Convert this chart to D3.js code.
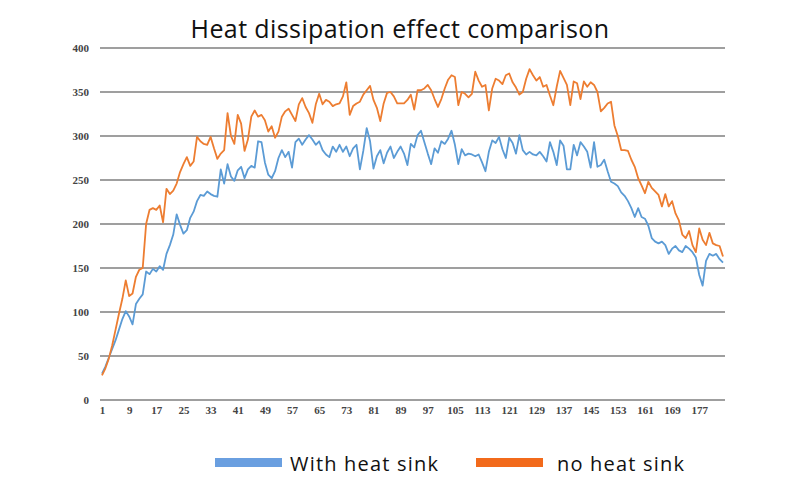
<!DOCTYPE html>
<html>
<head>
<meta charset="utf-8">
<script src="https://cdn.jsdelivr.net/npm/d3@7"></script>
<style>
  body { margin: 0; background: #fff; }
  svg { display: block; }
</style>
</head>
<body>
<div id="chart"></div>
<script>
// values, one per sample (1..184)
var withSink = [30, 38, 48, 58, 68, 80, 92, 101, 95, 86, 109, 115, 120, 146, 143, 149, 146, 152, 148, 166,
  176, 188, 211, 199, 189, 193, 207, 214, 226, 233, 232, 237, 234, 232, 231, 262, 246, 268, 254, 249,
  261, 265, 252, 262, 266, 264, 294, 293, 270, 256, 252, 260, 275, 284, 276, 282, 264, 293, 297, 290,
  296, 301, 296, 290, 294, 284, 279, 276, 288, 282, 290, 282, 288, 277, 286, 290, 262, 283, 309, 294,
  263, 277, 284, 269, 281, 288, 275, 282, 288, 280, 267, 291, 287, 301, 306, 293, 280, 268, 286, 281,
  294, 291, 297, 306, 290, 268, 285, 278, 280, 279, 277, 279, 270, 260, 282, 295, 292, 299, 285, 275,
  298, 292, 280, 301, 284, 279, 282, 279, 278, 282, 277, 271, 293, 282, 267, 295, 289, 262, 262, 290,
  278, 293, 288, 282, 264, 293, 265, 267, 273, 260, 248, 246, 243, 236, 232, 226, 218, 208, 218, 208,
  206, 198, 184, 180, 178, 180, 176, 166, 172, 175, 170, 168, 175, 172, 168, 162, 142, 130, 158, 166,
  164, 166, 160, 156];

var noSink = [28, 36, 47, 62, 80, 98, 115, 136, 118, 121, 140, 148, 150, 200, 216, 218, 216, 221, 202, 240,
  234, 238, 246, 259, 268, 276, 266, 271, 299, 294, 291, 290, 299, 286, 274, 280, 284, 326, 300, 291,
  324, 314, 283, 296, 322, 329, 322, 324, 318, 305, 311, 298, 305, 322, 328, 331, 324, 317, 336, 343,
  333, 326, 315, 336, 348, 336, 341, 339, 334, 336, 337, 345, 361, 324, 334, 337, 339, 347, 352, 357,
  341, 332, 317, 337, 349, 350, 345, 337, 337, 337, 341, 347, 330, 352, 352, 354, 358, 352, 342, 333,
  342, 354, 364, 369, 367, 335, 350, 348, 344, 348, 373, 363, 356, 358, 329, 354, 365, 363, 359, 369,
  371, 361, 355, 347, 350, 365, 376, 369, 363, 367, 356, 358, 346, 335, 356, 374, 366, 358, 335, 362,
  360, 342, 362, 356, 361, 358, 350, 328, 332, 337, 339, 312, 300, 284, 284, 283, 273, 265, 252, 244,
  235, 248, 241, 237, 233, 220, 234, 220, 226, 212, 204, 188, 184, 192, 176, 168, 195, 182, 176, 190,
  178, 176, 175, 163];

var yTicks = [0, 50, 100, 150, 200, 250, 300, 350, 400];
var seriesNames = ["With heat sink", "no heat sink"];
var colors = ["#5b9bd5", "#ed7d31"];

var width = 800, height = 492;
var margin = { top: 48, right: 75, bottom: 92, left: 100 };

var svg = d3.select("#chart").append("svg")
    .attr("width", width)
    .attr("height", height);

var n = noSink.length;
var idx = d3.range(1, n + 1);
var xLabels = idx.filter(function (d) { return (d - 1) % 8 === 0; });

var x = d3.scaleLinear()
    .domain([1, n])
    .range([margin.left + 2, width - margin.right - 2]);

var y = d3.scaleLinear()
    .domain([0, 400])
    .range([height - margin.bottom, margin.top]);

// gridlines
svg.append("g")
    .selectAll("line")
    .data(yTicks)
    .enter().append("line")
    .attr("x1", margin.left)
    .attr("x2", width - margin.right)
    .attr("y1", function (d) { return y(d); })
    .attr("y2", function (d) { return y(d); })
    .attr("stroke", "#7f7f7f")
    .attr("stroke-width", 1.5);

// y axis labels
var yAxis = svg.append("g")
    .attr("transform", "translate(" + (margin.left - 11) + ",0)")
    .call(d3.axisLeft(y).tickValues(yTicks).tickSize(0).tickPadding(0));
yAxis.select(".domain").remove();
yAxis.selectAll("text")
    .attr("font-family", "Liberation Serif, DejaVu Serif, serif")
    .attr("font-size", 11)
    .attr("font-weight", "bold")
    .attr("fill", "#444");

// x axis labels
var xAxis = svg.append("g")
    .attr("transform", "translate(0," + (height - margin.bottom) + ")")
    .call(d3.axisBottom(x).tickValues(xLabels).tickFormat(d3.format("d")).tickSize(0).tickPadding(6));
xAxis.select(".domain").remove();
xAxis.selectAll("text")
    .attr("font-family", "Liberation Serif, DejaVu Serif, serif")
    .attr("font-size", 11)
    .attr("font-weight", "bold")
    .attr("fill", "#444");

var line = d3.line()
    .x(function (d, i) { return x(i + 1); })
    .y(function (d) { return y(d); });

[withSink, noSink].forEach(function (s, k) {
    svg.append("path")
        .datum(s)
        .attr("fill", "none")
        .attr("stroke", colors[k])
        .attr("stroke-width", 1.8)
        .attr("stroke-linejoin", "round")
        .attr("d", line);
});

// title
svg.append("text")
    .attr("x", 400)
    .attr("y", 38)
    .attr("text-anchor", "middle")
    .attr("font-family", "Open Sans, Noto Sans, sans-serif")
    .attr("font-size", 25)
    .attr("letter-spacing", 0.4)
    .attr("fill", "#111")
    .text("Heat dissipation effect comparison");

// legend
var legendX = [215, 476];
var legendTextX = [290, 557];
seriesNames.forEach(function (name, k) {
    svg.append("rect")
        .attr("x", legendX[k])
        .attr("y", 458)
        .attr("width", 67)
        .attr("height", 9)
        .attr("fill", k === 0 ? "#6a9fe0" : "#f26a1b");
    svg.append("text")
        .attr("x", legendTextX[k])
        .attr("y", 471)
        .attr("font-family", "Open Sans, Noto Sans, sans-serif")
        .attr("font-size", 20)
        .attr("letter-spacing", 1.2)
        .attr("fill", "#111")
        .text(name);
});
</script>
</body>
</html>
